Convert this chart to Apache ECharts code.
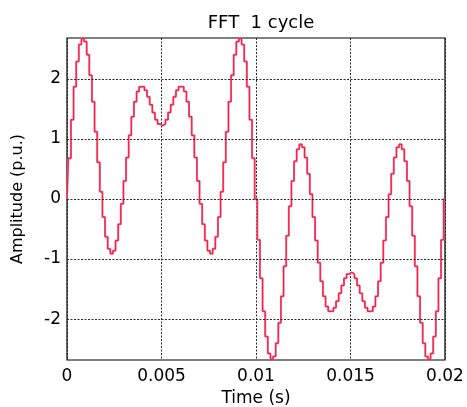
<!DOCTYPE html>
<html>
<head>
<meta charset="utf-8">
<script src="https://cdn.jsdelivr.net/npm/echarts@6/dist/echarts.min.js"></script>
<style>
  html, body { margin: 0; padding: 0; background: #fff; }
  #chart { width: 467px; height: 407px; }
</style>
</head>
<body>
<div id="chart"></div>
<script>
// One power-frequency cycle (50 Hz), 144 samples per cycle, held between samples.
const cycleSeconds = 0.02;
const samplesPerCycle = 144;

// Sampled amplitude in per-unit, sample 0 .. 144
const amplitude = [
  0, 0.68, 1.32, 1.87, 2.29, 2.57, 2.67, 2.62, 2.40, 2.06, 1.62, 1.12, 0.61, 0.12,
  -0.30, -0.63, -0.83, -0.91, -0.86, -0.69, -0.42, -0.08, 0.30, 0.69, 1.06, 1.37,
  1.62, 1.79, 1.87, 1.87, 1.81, 1.70, 1.57, 1.44, 1.32, 1.25, 1.22, 1.25, 1.32,
  1.44, 1.57, 1.70, 1.81, 1.87, 1.87, 1.79, 1.62, 1.37, 1.06, 0.69, 0.30, -0.08,
  -0.42, -0.69, -0.86, -0.91, -0.83, -0.63, -0.30, 0.12, 0.61, 1.12, 1.62, 2.06,
  2.40, 2.62, 2.67, 2.57, 2.29, 1.87, 1.32, 0.68, 0,
  -0.68, -1.32, -1.87, -2.29, -2.57, -2.67, -2.62, -2.40, -2.06, -1.62, -1.12,
  -0.61, -0.12, 0.30, 0.63, 0.83, 0.91, 0.86, 0.69, 0.42, 0.08, -0.30, -0.69,
  -1.06, -1.37, -1.62, -1.79, -1.87, -1.87, -1.81, -1.70, -1.57, -1.44, -1.32,
  -1.25, -1.22, -1.25, -1.32, -1.44, -1.57, -1.70, -1.81, -1.87, -1.87, -1.79,
  -1.62, -1.37, -1.06, -0.69, -0.30, 0.08, 0.42, 0.69, 0.86, 0.91, 0.83, 0.63,
  0.30, -0.12, -0.61, -1.12, -1.62, -2.06, -2.40, -2.62, -2.67, -2.57, -2.29,
  -1.87, -1.32, -0.68, 0
];

const xTicks = [0, 0.005, 0.01, 0.015, 0.02];
const yTicks = [-2, -1, 0, 1, 2];
const yRange = [-2.68, 2.68];

const samplePeriod = cycleSeconds / samplesPerCycle;
const points = amplitude.map((v, i) => [i * samplePeriod, v]);

const font = 'DejaVu Sans';
const gridLine = { color: '#2a2a2a', width: 1, type: [2, 1.5] };

const chart = echarts.init(document.getElementById('chart'), null, { renderer: 'canvas' });
chart.setOption({
  animation: false,
  backgroundColor: '#fff',
  title: {
    text: 'FFT  1 cycle',
    left: 256, top: 9, textAlign: 'center',
    textStyle: { fontFamily: font, fontSize: 18, fontWeight: 'normal', color: '#000' }
  },
  grid: {
    left: 67, right: 22, top: 38, bottom: 47,
    show: true, borderColor: '#000', borderWidth: 1.2,
    outerBoundsMode: 'none'
  },
  xAxis: {
    type: 'value',
    min: 0, max: 0.02, interval: 0.005,
    name: 'Time (s)', nameLocation: 'middle', nameGap: 29,
    nameTextStyle: { fontFamily: font, fontSize: 17, color: '#000' },
    axisLine: { show: false },
    axisTick: { show: false },
    axisLabel: {
      fontFamily: font, fontSize: 17, color: '#000', margin: 8,
      formatter: v => (xTicks.includes(+v.toFixed(3)) ? String(+v.toFixed(3)) : '')
    },
    splitLine: { show: true, lineStyle: gridLine }
  },
  yAxis: {
    type: 'value',
    min: yRange[0], max: yRange[1],
    name: 'Amplitude (p.u.)', nameLocation: 'middle', nameGap: 41,
    nameTextStyle: { fontFamily: font, fontSize: 16, color: '#000' },
    axisLine: { show: false },
    axisTick: { show: false, customValues: yTicks },
    axisLabel: {
      fontFamily: font, fontSize: 17, color: '#000', margin: 6,
      customValues: yTicks
    },
    splitLine: { show: false }
  },
  series: [
    {
      // horizontal dotted grid at the labelled amplitudes
      type: 'line', data: [], silent: true, z: 1,
      markLine: {
        silent: true, symbol: 'none', label: { show: false },
        lineStyle: gridLine, animation: false,
        data: yTicks.map(v => ({ yAxis: v }))
      }
    },
    {
      type: 'line', data: points, step: 'middle', showSymbol: false, z: 2,
      lineStyle: { color: '#e8649f', width: 2 }
    },
    {
      type: 'line', data: points, step: 'middle', showSymbol: false, z: 3,
      lineStyle: { color: '#ff1a26', width: 1 }
    }
  ]
});
</script>
</body>
</html>
